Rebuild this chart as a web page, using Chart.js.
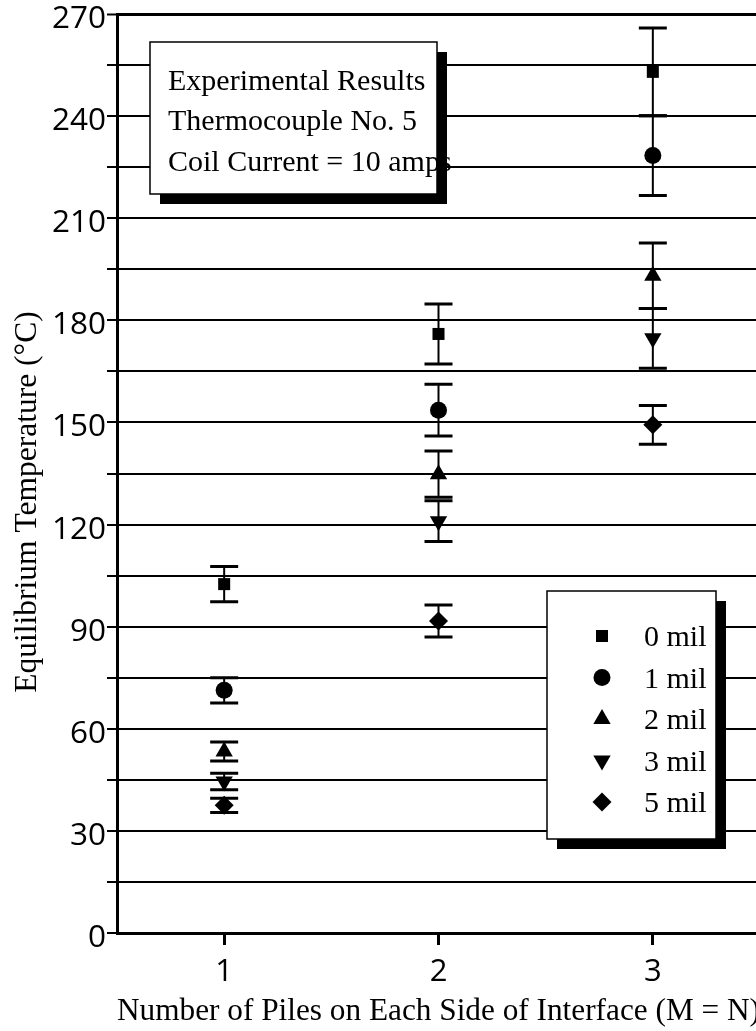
<!DOCTYPE html>
<html>
<head>
<meta charset="utf-8">
<title>Equilibrium Temperature</title>
<script src="https://cdn.jsdelivr.net/npm/chart.js@4.4.1/dist/chart.umd.min.js"></script>
<style>
  html, body { margin: 0; padding: 0; background: #fff; overflow: hidden; }
  #wrap { width: 756px; height: 1031px; overflow: hidden; position: relative; }
  #wrap canvas { position: absolute; left: 0; top: 0; }
</style>
</head>
<body>
<div id="wrap"><canvas id="tempChart" width="780" height="1031"></canvas></div>
<script>
// piles per side (M = N)
const piles = [1, 2, 3];
const xTickLabels = ['1', '2', '3'];
const yTickLabels = ['0', '30', '60', '90', '120', '150', '180', '210', '240', '270'];

const seriesNames = ['0 mil', '1 mil', '2 mil', '3 mil', '5 mil'];

// equilibrium temperature (°C) and error half-widths
const temp0mil = [102.5, 176.0, 253.0];
const err0mil  = [5.2, 8.8, 12.9];
const temp1mil = [71.3, 153.6, 228.4];
const err1mil  = [3.7, 7.6, 11.7];
const temp2mil = [53.3, 134.8, 193.1];
const err2mil  = [2.8, 6.8, 9.6];
const temp3mil = [44.5, 121.0, 174.7];
const err3mil  = [2.4, 6.0, 8.8];
const temp5mil = [37.5, 91.7, 149.3];
const err5mil  = [2.1, 4.7, 5.7];

const noteLines = ['Experimental Results', 'Thermocouple No. 5', 'Coil Current = 10 amps'];
const yTitle = 'Equilibrium Temperature (°C)';

const serif = '"Liberation Serif", "Times New Roman", serif';
const sans = '"Open Sans", "DejaVu Sans", sans-serif';

function makeSet(label, temps, errs, style, radius, rotation) {
    return {
        label: label,
        data: piles.map((p, i) => ({ x: p, y: temps[i] })),
        errors: errs,
        showLine: false,
        pointStyle: style,
        pointRadius: radius,
        pointHoverRadius: radius,
        pointRotation: rotation,
        pointBorderWidth: 0,
        pointBackgroundColor: '#000',
        borderColor: '#000',
        backgroundColor: '#000'
    };
}

// vertical error bars with caps, drawn under the markers
const errorBars = {
    id: 'errorBars',
    beforeDatasetsDraw(chart) {
        const ctx = chart.ctx;
        const xs = chart.scales.x, ys = chart.scales.y;
        ctx.save();
        ctx.strokeStyle = '#000';
        chart.data.datasets.forEach(ds => {
            ds.data.forEach((pt, i) => {
                const px = xs.getPixelForValue(pt.x);
                const top = ys.getPixelForValue(pt.y + ds.errors[i]);
                const bot = ys.getPixelForValue(pt.y - ds.errors[i]);
                ctx.lineWidth = 2;
                ctx.beginPath();
                ctx.moveTo(px, top);
                ctx.lineTo(px, bot);
                ctx.stroke();
                ctx.lineWidth = 3;
                ctx.beginPath();
                ctx.moveTo(px - 14, top); ctx.lineTo(px + 14, top);
                ctx.moveTo(px - 14, bot); ctx.lineTo(px + 14, bot);
                ctx.stroke();
            });
        });
        ctx.restore();
    }
};

function shadowBox(ctx, l, t, r, b) {
    ctx.fillStyle = '#000';
    ctx.fillRect(l + 10, t + 10, r - l, b - t);
    ctx.fillStyle = '#fff';
    ctx.fillRect(l, t, r - l, b - t);
    ctx.lineWidth = 1.5;
    ctx.strokeStyle = '#000';
    ctx.strokeRect(l, t, r - l, b - t);
}

// note box top-left, marker key bottom-right, rotated y title
const boxes = {
    id: 'boxes',
    afterDatasetsDraw(chart) {
        const ctx = chart.ctx;
        ctx.save();

        shadowBox(ctx, 150, 42, 437, 194);
        ctx.fillStyle = '#000';
        ctx.font = '30px ' + serif;
        ctx.textAlign = 'left';
        ctx.textBaseline = 'alphabetic';
        const noteBase = [90, 130, 171];
        noteLines.forEach((t, i) => ctx.fillText(t, 168, noteBase[i]));

        shadowBox(ctx, 547, 591, 716, 839);
        chart.data.datasets.forEach((ds, i) => {
            const cy = 636 + i * 41.5;
            ctx.fillStyle = '#000';
            Chart.helpers.drawPoint(ctx, {
                pointStyle: ds.pointStyle,
                rotation: ds.pointRotation,
                radius: ds.pointRadius,
                borderWidth: 0
            }, 602, cy);
            ctx.fillText(ds.label, 644, cy + 10);
        });

        ctx.translate(36, 502);
        ctx.rotate(-Math.PI / 2);
        ctx.textAlign = 'center';
        ctx.font = '31.5px ' + serif;
        ctx.fillText(yTitle, 0, 0);
        ctx.restore();
    }
};

const ctx = document.getElementById('tempChart').getContext('2d');
new Chart(ctx, {
    type: 'scatter',
    data: {
        datasets: [
            makeSet(seriesNames[0], temp0mil, err0mil, 'rect', 8.5, 0),
            makeSet(seriesNames[1], temp1mil, err1mil, 'circle', 8.5, 0),
            makeSet(seriesNames[2], temp2mil, err2mil, 'triangle', 10, 0),
            makeSet(seriesNames[3], temp3mil, err3mil, 'triangle', 10, 180),
            makeSet(seriesNames[4], temp5mil, err5mil, 'rectRot', 9.5, 0)
        ]
    },
    options: {
        responsive: false,
        animation: false,
        devicePixelRatio: 1,
        layout: { padding: { top: 14, right: 20, left: 0, bottom: 0 } },
        plugins: {
            legend: { display: false },
            tooltip: { enabled: false }
        },
        scales: {
            x: {
                type: 'linear',
                min: 0.5,
                max: 3.5,
                afterBuildTicks: s => { s.ticks = piles.map(v => ({ value: v })); },
                afterFit: s => { s.height = 98; },
                grid: { drawOnChartArea: false, drawTicks: true, tickLength: 12, tickWidth: 3, tickColor: '#000' },
                border: { display: true, color: '#000', width: 3 },
                ticks: {
                    color: '#000',
                    font: { family: sans, size: 31 },
                    padding: 9,
                    maxRotation: 0,
                    callback: v => xTickLabels[piles.indexOf(v)]
                },
                title: {
                    display: true,
                    text: 'Number of Piles on Each Side of Interface (M = N)',
                    color: '#000',
                    font: { family: serif, size: 32 },
                    padding: { top: 0, bottom: 0 }
                }
            },
            y: {
                min: 0,
                max: 270,
                afterFit: s => { s.width = 117; },
                grid: {
                    color: '#000',
                    lineWidth: c => (c.tick && c.tick.value === 270 ? 3 : 2),
                    tickLength: 10,
                    tickWidth: 2,
                    tickColor: '#000'
                },
                border: { display: true, color: '#000', width: 3 },
                ticks: {
                    stepSize: 15,
                    color: '#000',
                    font: { family: sans, size: 31.5, lineHeight: 0.8 },
                    padding: 1,
                    labelOffset: 5,
                    callback: v => (v % 30 === 0 ? yTickLabels[v / 30] : '')
                }
            }
        }
    },
    plugins: [errorBars, boxes]
});
</script>
</body>
</html>
